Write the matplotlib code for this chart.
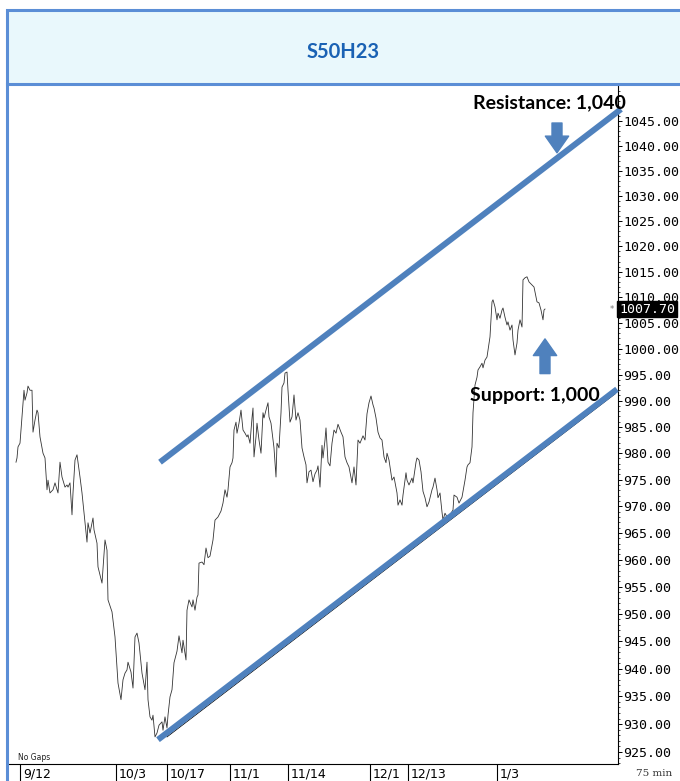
import matplotlib
matplotlib.use("Agg")
import matplotlib.pyplot as plt
import matplotlib.ticker as mticker
import matplotlib.transforms as mtransforms
from matplotlib.patches import Rectangle
from matplotlib.lines import Line2D

# S50H23 75-min closes, bar number from the first bar on the chart
bars = [1, 2, 3, 5, 7, 9, 10, 12, 13, 15, 17, 18, 20, 22, 23, 25, 28, 30, 32, 33,
        35, 38, 40, 43, 45, 47, 50, 52, 53, 55, 57, 58, 60, 62, 65, 67, 70, 72, 73, 75,
        78, 79, 82, 83, 85, 87, 90, 92, 93,
        97, 100, 103, 106, 108, 110, 112, 113, 116, 118, 120, 122, 124, 127, 130, 132, 133, 135,
        137, 138, 140, 142, 144, 147, 148, 150, 152, 153, 155, 157, 159, 162, 164, 167, 168,
        171, 172, 174, 177, 178, 180, 182, 183, 184, 187, 189, 191, 193, 195, 198, 200, 203,
        206, 208, 210,
        212, 213, 215, 217, 218, 219, 221, 222, 224, 226, 228, 230, 232, 233, 235, 237, 238,
        239, 241, 242, 244, 246, 248, 249, 251, 253, 254, 256, 258, 259, 261, 262, 264, 266,
        267, 269, 270, 272, 273, 275, 277, 279, 281, 283, 285, 287, 289, 291, 292, 294, 296,
        298, 300, 302, 303, 305, 307, 308, 310, 311, 313, 315, 317, 319, 321, 323, 326, 328,
        330, 332, 334, 337, 339, 341, 343, 345, 348, 350, 352, 354, 356, 358, 359, 361, 363,
        365,
        367, 369, 371, 372, 374, 377, 379, 382, 383, 385, 387, 388, 391, 392, 394, 397, 398,
        401, 402, 404, 406, 408, 410, 412, 414, 417, 418, 420, 422, 423, 425, 427, 428, 430,
        432, 435, 438, 439, 442, 444, 447, 448, 450, 452, 453, 455, 457, 458, 460,
        462, 463, 465, 467, 468, 470, 472, 473, 475, 477, 478, 480, 482, 483, 485, 487, 488,
        490, 492, 493, 495, 497, 498, 500, 502, 503, 505, 507, 508, 510, 512, 514, 517, 519,
        521, 522, 524, 526, 528, 529, 530]
close = [978.3, 979.1, 981.2, 981.9, 986.9, 992.0, 990.1, 991.5, 992.8, 992.0, 992.0, 984.0,
         986.3, 988.2, 987.7, 983.1, 980.0, 979.1, 973.1, 974.9, 972.5, 973.1, 974.4, 972.5,
         978.3, 975.5, 973.6, 974.0, 973.6, 974.4, 968.4, 972.5, 978.7, 979.7, 975.5, 972.5,
         966.9, 963.3, 966.9, 965.0, 967.8, 965.6, 963.1, 958.7, 957.2, 955.7, 963.7, 961.8,
         952.6,
         950.4, 945.8, 937.4, 934.4, 938.0, 939.2, 939.8, 941.2, 939.4, 936.5, 945.8, 946.5,
         944.7, 939.2, 936.2, 941.2, 934.4, 931.3, 930.7, 931.6, 927.7, 928.4, 929.8, 930.4,
         928.9, 931.3, 929.3, 931.6, 934.9, 936.2, 941.1, 943.2, 946.0, 942.9, 945.2, 941.6,
         950.7, 952.6, 951.3, 952.6, 950.7, 953.1, 953.5, 959.4, 959.6, 959.1, 962.2, 960.4,
         960.7, 963.7, 967.4, 968.0, 969.1, 970.6,
         973.1, 971.7, 973.1, 977.4, 978.2, 979.1, 984.4, 985.9, 983.8, 985.7, 988.2, 984.4,
         983.8, 983.1, 983.5, 981.9, 986.7, 988.6, 979.3, 983.1, 985.7, 982.5, 980.0, 987.7,
         986.7, 988.2, 989.6, 986.9, 985.7, 982.5, 981.0, 975.5, 981.9, 981.0, 987.7, 992.6,
         993.4, 995.3, 995.5, 992.0, 985.9, 986.9, 991.1, 986.3, 987.7, 986.3, 981.0, 979.3,
         977.8, 974.4, 976.5, 976.8, 974.6, 976.1, 976.8, 977.6, 973.6, 981.5, 979.1, 982.5,
         984.8, 978.3, 977.6, 981.9, 984.4, 983.8, 985.5, 984.0, 983.1, 979.3, 978.2, 977.4,
         974.4, 977.4, 974.0, 982.5, 981.9, 983.3, 982.5, 987.5, 989.6, 990.9, 989.2, 988.6,
         986.7, 984.0, 982.9,
         982.5, 979.3, 978.2, 980.0, 978.7, 974.9, 975.5, 972.5, 970.2, 971.2, 970.2, 972.1,
         976.3, 974.9, 974.0, 975.3, 974.4, 978.3, 979.1, 978.7, 976.5, 972.8, 971.6, 969.9,
         970.8, 973.1, 973.6, 975.3, 973.1, 971.6, 972.5, 968.9, 967.4, 968.7, 968.0, 968.4,
         969.3, 972.1, 971.7, 970.6, 971.7, 972.8, 974.9, 977.4, 977.8, 978.2, 981.2, 987.7,
         993.0,
         994.5, 995.9, 996.5, 997.2, 996.3, 997.8, 998.4, 999.7, 1002.3, 1009.1, 1009.5,
         1008.1, 1005.6, 1006.9, 1005.9, 1007.5, 1007.9, 1006.1, 1004.6, 1005.2, 1003.6,
         1004.6, 1001.7, 998.8, 1001.1, 1003.6, 1005.6, 1004.2, 1013.4, 1013.8, 1014.0,
         1013.0, 1012.4, 1012.0, 1010.0, 1009.1, 1008.9, 1007.5, 1005.6, 1007.5, 1007.7]
last_price = 1007.70

# date separators on the bar axis
date_bars = [5, 101, 152, 215, 273, 355, 393, 482]
date_labels = ["9/12", "10/3", "10/17", "11/1", "11/14", "12/1", "12/13", "1/3"]

price_ticks = list(range(925, 1050, 5))

# hand drawn channel (bar, price)
resist_line = ([145, 606], [978.3, 1047.4])
support_line = ([143, 602], [927.2, 992.2])
trend_line = ([152, 600], [927.7, 991.3])

BLUE = "#4F81BD"
FRAME = "#5B8ED6"

fig = plt.figure(figsize=(6.8, 7.81), dpi=100)

# header box and frame
fig.add_artist(Rectangle((7 / 680, 1 - 84 / 781), 1.0, 74 / 781, transform=fig.transFigure,
                         facecolor="#E9F8FC", edgecolor=FRAME, linewidth=2.2))
fig.add_artist(Line2D([7 / 680, 7 / 680], [0, 1 - 84 / 781], transform=fig.transFigure,
                      color=FRAME, linewidth=2.2))
fig.text(0.504, 1 - 52 / 781, "S50H23", ha="center", va="center", color="#1A62B4",
         fontsize=14.5, fontweight="bold", family="Lato")

ax = fig.add_axes([8 / 680, 1 - 764 / 781, 610 / 680, 678 / 781])
ax.set_yscale("log")
ax.set_xlim(-7, 603)
ax.set_ylim(922.85, 1052.1)

ax.plot(bars, close, color="#333333", linewidth=0.6, zorder=3)

ax.plot(*resist_line, color=BLUE, linewidth=4.3, solid_capstyle="butt", clip_on=False, zorder=4)
ax.plot(*trend_line, color="black", linewidth=0.6, zorder=3)
ax.plot(*support_line, color=BLUE, linewidth=4.3, solid_capstyle="butt", clip_on=False, zorder=4)

arrow = dict(arrowstyle="simple,head_length=0.75,head_width=1.05,tail_width=0.45",
             color=BLUE, mutation_scale=16, shrinkA=0, shrinkB=0)
ax.annotate("", xy=(542, 1038.6), xytext=(542, 1044.6), arrowprops=arrow, annotation_clip=False)
ax.annotate("", xy=(530, 1001.9), xytext=(530, 995.2), arrowprops=arrow, annotation_clip=False)

ax.text(458, 1048.6, "Resistance: 1,040", ha="left", va="center", fontsize=14,
        fontweight="bold", family="Lato", zorder=6, clip_on=False)
ax.text(455, 990.9, "Support: 1,000", ha="left", va="center", fontsize=14,
        fontweight="bold", family="Lato", zorder=6, clip_on=False)

# price axis on the right
ax.yaxis.tick_right()
ax.yaxis.set_major_locator(mticker.FixedLocator(price_ticks))
ax.yaxis.set_major_formatter(mticker.FuncFormatter(lambda v, p: "%.2f" % v))
ax.yaxis.set_minor_locator(mticker.FixedLocator(range(923, 1052)))
ax.yaxis.set_minor_formatter(mticker.NullFormatter())
ax.tick_params(axis="y", which="major", length=3, width=0.7, pad=1, labelsize=9.5)
ax.tick_params(axis="y", which="minor", length=1.5, width=0.5)
for lab in ax.get_yticklabels():
    lab.set_family("DejaVu Sans Mono")

ax.text(604, last_price, "1007.70", ha="left", va="center", color="white",
        family="DejaVu Sans Mono", fontsize=9.5, zorder=10, clip_on=False,
        bbox=dict(facecolor="black", edgecolor="black", pad=1.2))
ax.text(597, last_price, "*", ha="center", va="center", color="#777777", fontsize=6, zorder=5)

# date axis
ax.set_xticks(date_bars)
ax.set_xticklabels([])
ax.tick_params(axis="x", direction="out", length=12.5, width=0.8)
tr = mtransforms.blended_transform_factory(ax.transData, ax.transAxes)
for b, lab in zip(date_bars, date_labels):
    ax.text(b + 3, -0.015, lab, transform=tr, ha="left", va="center", fontsize=9,
            family="DejaVu Sans", clip_on=False)

for side in ["left", "top"]:
    ax.spines[side].set_visible(False)
ax.spines["right"].set_linewidth(0.8)
ax.spines["bottom"].set_linewidth(0.8)

fig.text(18 / 680, 1 - 757 / 781, "No Gaps", fontsize=5.5, va="center", ha="left", color="#222222")
fig.text(672 / 680, 1 - 773 / 781, "75 min", fontsize=7.5, va="center", ha="right",
         family="DejaVu Serif", color="#333333")

fig.savefig("out.png", dpi=100)
